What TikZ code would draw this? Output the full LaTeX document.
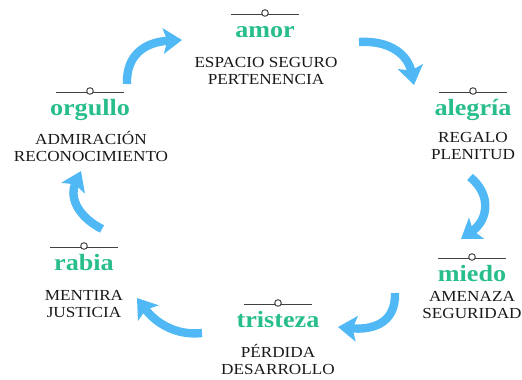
\documentclass[tikz,border=0pt]{standalone}
\usepackage{fontspec}
\setmainfont{Liberation Serif}[FakeStretch=1.12]
\usetikzlibrary{arrows.meta}
\definecolor{emogreen}{RGB}{40,190,140}
\definecolor{cycleblue}{RGB}{80,185,245}
\tikzset{>={Stealth[length=14pt,width=19pt,inset=3pt]}}
\tikzset{
  emotion/.style={anchor=base,inner sep=0pt,text=emogreen,
    font=\bfseries\fontsize{17.5}{17.5}\selectfont},
  needs/.style={anchor=north,inner sep=0pt,align=center,text=black!90,
    font=\fontsize{11.5}{12.5}\selectfont},
  ornament/.style={draw=black!75,line width=0.7pt},
  cyclearrow/.style={->,cycleblue,line width=6.3pt},
}

\begin{document}
\begin{tikzpicture}[x=0.75pt,y=-0.75pt]
    \useasboundingbox (0,0) rectangle (522,379);
    \node[emotion] (amor) at (265,37) {amor};
    \node[emotion] (alegria) at (473,115) {alegría};
    \node[emotion] (miedo) at (472,281) {miedo};
    \node[emotion] (tristeza) at (278,327) {tristeza};
    \node[emotion] (rabia) at (84,270) {rabia};
    \node[emotion] (orgullo) at (90,115) {orgullo};
    \node[needs] (amor-n) at (266,57) {ESPACIO SEGURO\\PERTENENCIA};
    \node[needs] (alegria-n) at (473,132) {REGALO\\PLENITUD};
    \node[needs] (miedo-n) at (472,291) {AMENAZA\\SEGURIDAD};
    \node[needs] (tristeza-n) at (278,344) {PÉRDIDA\\DESARROLLO};
    \node[needs] (rabia-n) at (84,290) {MENTIRA\\JUSTICIA};
    \node[needs] (orgullo-n) at (91,131) {ADMIRACIÓN\\RECONOCIMIENTO};
    \foreach\n in {amor,alegria,miedo,tristeza,rabia,orgullo}{
     \draw[ornament] ([shift={(-34,-23)}]\n.base) -- ([shift={(34,-23)}]\n.base);
     \draw[ornament,fill=white] ([shift={(0,-24)}]\n.base) circle (3.3);}
    \coordinate (orgullo-out) at (127,84);
    \coordinate (amor-in) at (182,40);
    \coordinate (amor-out) at (359,42);
    \coordinate (alegria-in) at (414,85);
    \coordinate (alegria-out) at (470,177);
    \coordinate (miedo-in) at (461,239);
    \coordinate (miedo-out) at (395,293);
    \coordinate (tristeza-in) at (338,327);
    \coordinate (tristeza-out) at (202,333);
    \coordinate (rabia-in) at (137,298);
    \coordinate (rabia-out) at (102,229);
    \coordinate (orgullo-in) at (81,171);
    \draw[cyclearrow] (orgullo-out) .. controls (126,55) and (145,42) .. (amor-in);
    \draw[cyclearrow] (amor-out) .. controls (390,40) and (408,55) .. (alegria-in);
    \draw[cyclearrow] (alegria-out) .. controls (492,195) and (488,220) .. (miedo-in);
    \draw[cyclearrow] (miedo-out) .. controls (396,325) and (370,330) .. (tristeza-in);
    \draw[cyclearrow] (tristeza-out) .. controls (175,336) and (155,322) .. (rabia-in);
    \draw[cyclearrow] (rabia-out) .. controls (75,215) and (70,195) .. (orgullo-in);
\end{tikzpicture}
\end{document}
